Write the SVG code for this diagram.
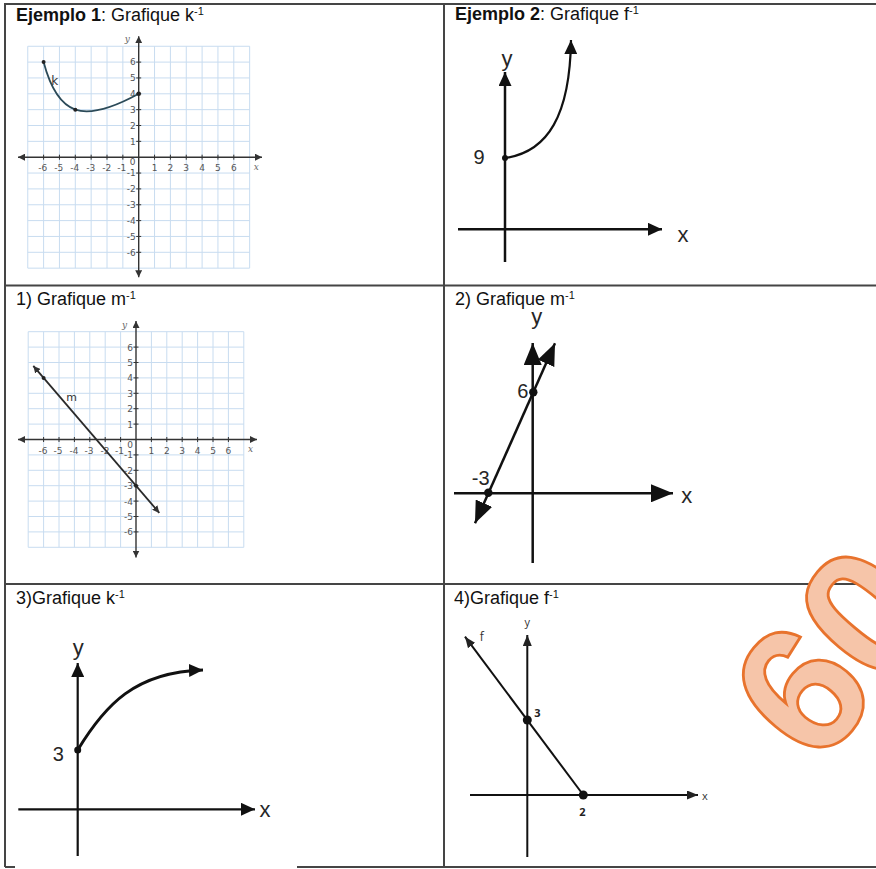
<svg xmlns="http://www.w3.org/2000/svg" width="876" height="869" viewBox="0 0 876 869">
<defs>
<style>
.tbl{stroke:#454545;stroke-width:2;fill:none}
.title{font-family:"Liberation Sans",Arial,sans-serif;font-size:18px;fill:#111}
.b{font-weight:bold}
.sup{font-size:11px}
.grid{stroke:#c8dcf0;stroke-width:1;fill:none}
.gax{stroke:#333;stroke-width:1.4;fill:none}
.tick{stroke:#333;stroke-width:1;fill:none}
.tlm{font-family:"DejaVu Sans",sans-serif;font-size:9px;fill:#555;text-anchor:middle}
.tle{font-family:"DejaVu Sans",sans-serif;font-size:9px;fill:#555;text-anchor:end}
.axl{font-family:"DejaVu Serif",serif;font-style:italic;font-size:9px;fill:#666}
.lbl{font-family:"Liberation Sans",Arial,sans-serif;fill:#262626;text-anchor:middle}
.ax{stroke:#111;fill:none}
</style>
<marker id="aS" viewBox="0 0 10 10" refX="10" refY="5" markerWidth="7" markerHeight="7" markerUnits="userSpaceOnUse" orient="auto-start-reverse"><path d="M0,0 L10,5 L0,10 z" fill="#333"/></marker>
<marker id="aM" viewBox="0 0 10 10" refX="10" refY="5" markerWidth="14" markerHeight="13" markerUnits="userSpaceOnUse" orient="auto-start-reverse" preserveAspectRatio="none"><path d="M0,0 L10,5 L0,10 z" fill="#111"/></marker>
<marker id="aL" viewBox="0 0 10 10" refX="10" refY="5" markerWidth="22" markerHeight="18" markerUnits="userSpaceOnUse" orient="auto-start-reverse" preserveAspectRatio="none"><path d="M0,0 L10,5 L0,10 z" fill="#111"/></marker>
<marker id="aT" viewBox="0 0 10 10" refX="10" refY="5" markerWidth="11" markerHeight="9" markerUnits="userSpaceOnUse" orient="auto-start-reverse" preserveAspectRatio="none"><path d="M0,0 L10,5 L0,10 z" fill="#222"/></marker>
</defs>
<rect width="876" height="869" fill="#fff"/>

<g id="table">
<path class="tbl" d="M4,4 H876 M5,4 V867 M5,867 H15 M444,4 V867 M5,285.5 H876 M5,584 H876 M297,867 H876"/>
</g>

<g id="titles">
<text class="title" x="16" y="21"><tspan class="b">Ejemplo 1</tspan>: Grafique k<tspan class="sup" dy="-6">-1</tspan></text>
<text class="title" x="455" y="20"><tspan class="b">Ejemplo 2</tspan>: Grafique f<tspan class="sup" dy="-6">-1</tspan></text>
<text class="title" x="16" y="305">1) Grafique m<tspan class="sup" dy="-6">-1</tspan></text>
<text class="title" x="455" y="305">2) Grafique m<tspan class="sup" dy="-6">-1</tspan></text>
<text class="title" x="16" y="604">3)Grafique k<tspan class="sup" dy="-6">-1</tspan></text>
<text class="title" x="454" y="604">4)Grafique f<tspan class="sup" dy="-6">-1</tspan></text>
</g>

<g id="graph-ejemplo1" transform="translate(138.7,157.2)">
<path class="grid" d="M-110.95,-110.95 V110.95 M-95.1,-110.95 V110.95 M-79.25,-110.95 V110.95 M-63.4,-110.95 V110.95 M-47.55,-110.95 V110.95 M-31.7,-110.95 V110.95 M-15.85,-110.95 V110.95 M15.85,-110.95 V110.95 M31.7,-110.95 V110.95 M47.55,-110.95 V110.95 M63.4,-110.95 V110.95 M79.25,-110.95 V110.95 M95.1,-110.95 V110.95 M110.95,-110.95 V110.95
M-110.95,-110.95 H110.95 M-110.95,-95.1 H110.95 M-110.95,-79.25 H110.95 M-110.95,-63.4 H110.95 M-110.95,-47.55 H110.95 M-110.95,-31.7 H110.95 M-110.95,-15.85 H110.95 M-110.95,15.85 H110.95 M-110.95,31.7 H110.95 M-110.95,47.55 H110.95 M-110.95,63.4 H110.95 M-110.95,79.25 H110.95 M-110.95,95.1 H110.95 M-110.95,110.95 H110.95"/>
<path class="gax" d="M-120.7,0 H123.3" marker-start="url(#aS)" marker-end="url(#aS)"/>
<path class="gax" d="M0,-121 V120" marker-start="url(#aS)" marker-end="url(#aS)"/>
<path class="tick" d="M-95.1,-2.5 V2.5 M-79.25,-2.5 V2.5 M-63.4,-2.5 V2.5 M-47.55,-2.5 V2.5 M-31.7,-2.5 V2.5 M-15.85,-2.5 V2.5 M15.85,-2.5 V2.5 M31.7,-2.5 V2.5 M47.55,-2.5 V2.5 M63.4,-2.5 V2.5 M79.25,-2.5 V2.5 M95.1,-2.5 V2.5
M-2.5,-95.1 H2.5 M-2.5,-79.25 H2.5 M-2.5,-63.4 H2.5 M-2.5,-47.55 H2.5 M-2.5,-31.7 H2.5 M-2.5,-15.85 H2.5 M-2.5,15.85 H2.5 M-2.5,31.7 H2.5 M-2.5,47.55 H2.5 M-2.5,63.4 H2.5 M-2.5,79.25 H2.5 M-2.5,95.1 H2.5"/>
<text class="tlm" x="-96" y="14">-6</text><text class="tlm" x="-80" y="14">-5</text><text class="tlm" x="-64" y="14">-4</text><text class="tlm" x="-48" y="14">-3</text><text class="tlm" x="-32" y="14">-2</text><text class="tlm" x="-17" y="14">-1</text>
<text class="tlm" x="15.85" y="14">1</text><text class="tlm" x="31.7" y="14">2</text><text class="tlm" x="47.55" y="14">3</text><text class="tlm" x="63.4" y="14">4</text><text class="tlm" x="79.25" y="14">5</text><text class="tlm" x="95.1" y="14">6</text>
<text class="tlm" x="-6" y="8">0</text>
<text class="tle" x="-3" y="-91.8">6</text><text class="tle" x="-3" y="-76">5</text><text class="tle" x="-3" y="-60.1">4</text><text class="tle" x="-3" y="-44.3">3</text><text class="tle" x="-3" y="-28.4">2</text><text class="tle" x="-3" y="-12.5">1</text>
<text class="tle" x="-3" y="19.2">-1</text><text class="tle" x="-3" y="35">-2</text><text class="tle" x="-3" y="50.9">-3</text><text class="tle" x="-3" y="66.7">-4</text><text class="tle" x="-3" y="82.6">-5</text><text class="tle" x="-3" y="98.4">-6</text>
<text class="axl" x="-14" y="-115">y</text>
<text class="axl" x="115" y="13">x</text>
<path d="M-95.1,-95.1 C-89,-72 -79,-53 -63.4,-47.55 C-50,-43 -30,-47 0,-63.4" fill="none" stroke="#2b4a58" stroke-width="1.8"/>
<circle cx="-95.1" cy="-95.1" r="2" fill="#222"/><circle cx="-63.4" cy="-47.55" r="2" fill="#222"/><circle cx="0" cy="-63.4" r="2.3" fill="#222"/>
<text x="-84" y="-72.5" font-family="DejaVu Sans,sans-serif" font-size="12" fill="#333" text-anchor="middle">k</text>
</g>

<g id="graph-ejemplo2">
<path class="ax" stroke-width="2.5" d="M505,262 V72" marker-end="url(#aM)"/>
<path class="ax" stroke-width="2.5" d="M458,229.3 H662" marker-end="url(#aM)"/>
<path class="ax" stroke-width="2.2" d="M505,158 C548,152 570,115 571,40" marker-end="url(#aM)"/>
<circle cx="505" cy="158" r="3" fill="#111"/>
<text class="lbl" x="479" y="164" font-size="20">9</text>
<text class="lbl" x="507" y="66" font-size="22">y</text>
<text class="lbl" x="683" y="242" font-size="22">x</text>
</g>

<g id="graph-1" transform="translate(136,439.5)">
<path class="grid" d="M-107.8,-107.8 V107.8 M-92.4,-107.8 V107.8 M-77,-107.8 V107.8 M-61.6,-107.8 V107.8 M-46.2,-107.8 V107.8 M-30.8,-107.8 V107.8 M-15.4,-107.8 V107.8 M15.4,-107.8 V107.8 M30.8,-107.8 V107.8 M46.2,-107.8 V107.8 M61.6,-107.8 V107.8 M77,-107.8 V107.8 M92.4,-107.8 V107.8 M107.8,-107.8 V107.8
M-107.8,-107.8 H107.8 M-107.8,-92.4 H107.8 M-107.8,-77 H107.8 M-107.8,-61.6 H107.8 M-107.8,-46.2 H107.8 M-107.8,-30.8 H107.8 M-107.8,-15.4 H107.8 M-107.8,15.4 H107.8 M-107.8,30.8 H107.8 M-107.8,46.2 H107.8 M-107.8,61.6 H107.8 M-107.8,77 H107.8 M-107.8,92.4 H107.8 M-107.8,107.8 H107.8"/>
<path class="gax" d="M-118,0 H121" marker-start="url(#aS)" marker-end="url(#aS)"/>
<path class="gax" d="M0,-118.5 V118" marker-start="url(#aS)" marker-end="url(#aS)"/>
<path class="tick" d="M-92.4,-2.5 V2.5 M-77,-2.5 V2.5 M-61.6,-2.5 V2.5 M-46.2,-2.5 V2.5 M-30.8,-2.5 V2.5 M-15.4,-2.5 V2.5 M15.4,-2.5 V2.5 M30.8,-2.5 V2.5 M46.2,-2.5 V2.5 M61.6,-2.5 V2.5 M77,-2.5 V2.5 M92.4,-2.5 V2.5
M-2.5,-92.4 H2.5 M-2.5,-77 H2.5 M-2.5,-61.6 H2.5 M-2.5,-46.2 H2.5 M-2.5,-30.8 H2.5 M-2.5,-15.4 H2.5 M-2.5,15.4 H2.5 M-2.5,30.8 H2.5 M-2.5,46.2 H2.5 M-2.5,61.6 H2.5 M-2.5,77 H2.5 M-2.5,92.4 H2.5"/>
<text class="tlm" x="-93" y="14">-6</text><text class="tlm" x="-78" y="14">-5</text><text class="tlm" x="-62" y="14">-4</text><text class="tlm" x="-47" y="14">-3</text><text class="tlm" x="-31" y="14">-2</text><text class="tlm" x="-16.5" y="14">-1</text>
<text class="tlm" x="15.4" y="14">1</text><text class="tlm" x="30.8" y="14">2</text><text class="tlm" x="46.2" y="14">3</text><text class="tlm" x="61.6" y="14">4</text><text class="tlm" x="77" y="14">5</text><text class="tlm" x="92.4" y="14">6</text>
<text class="tlm" x="-6" y="8">0</text>
<text class="tle" x="-3" y="-89">6</text><text class="tle" x="-3" y="-73.6">5</text><text class="tle" x="-3" y="-58.2">4</text><text class="tle" x="-3" y="-42.8">3</text><text class="tle" x="-3" y="-27.4">2</text><text class="tle" x="-3" y="-12">1</text>
<text class="tle" x="-3" y="18.8">-1</text><text class="tle" x="-3" y="34.2">-2</text><text class="tle" x="-3" y="49.6">-3</text><text class="tle" x="-3" y="65">-4</text><text class="tle" x="-3" y="80.4">-5</text><text class="tle" x="-3" y="95.8">-6</text>
<text class="axl" x="-14" y="-112">y</text>
<text class="axl" x="112" y="12">x</text>
<path d="M-102.7,-73.6 L23.3,73.4" fill="none" stroke="#2a2a2a" stroke-width="1.8" marker-start="url(#aS)" marker-end="url(#aS)"/>
<circle cx="-92.4" cy="-61.6" r="2" fill="#222"/><circle cx="0" cy="46.2" r="2" fill="#222"/>
<text x="-64.3" y="-39" font-family="DejaVu Sans,sans-serif" font-size="11" fill="#333" text-anchor="middle">m</text>
</g>

<g id="graph-2">
<path class="ax" stroke-width="2.5" d="M532.7,563 V343" marker-end="url(#aL)"/>
<path class="ax" stroke-width="2.5" d="M454,493.3 H673" marker-end="url(#aL)"/>
<path class="ax" stroke-width="2.5" d="M475,523.3 L555,343.3" marker-start="url(#aL)" marker-end="url(#aL)"/>
<circle cx="488.3" cy="492.7" r="4.2" fill="#111"/>
<circle cx="533.3" cy="392.3" r="4.2" fill="#111"/>
<text class="lbl" x="522.7" y="398" font-size="20">6</text>
<text class="lbl" x="480.7" y="485" font-size="20">-3</text>
<text class="lbl" x="686.7" y="503" font-size="22">x</text>
<text class="lbl" x="536.7" y="324" font-size="22">y</text>
</g>

<g id="graph-3">
<path class="ax" stroke-width="2.2" d="M77.7,856 V663" marker-end="url(#aM)"/>
<path class="ax" stroke-width="2.2" d="M18.3,809.3 H255" marker-end="url(#aM)"/>
<path class="ax" stroke-width="3" d="M77.7,750 C105,705 135,672 203,670" marker-end="url(#aM)"/>
<circle cx="77.7" cy="750" r="3.5" fill="#111"/>
<text class="lbl" x="58.3" y="761" font-size="20">3</text>
<text class="lbl" x="78.3" y="655" font-size="22">y</text>
<text class="lbl" x="265" y="817" font-size="22">x</text>
</g>

<g id="graph-4">
<path class="ax" stroke="#222" stroke-width="2" d="M527.3,857 V635" marker-end="url(#aT)"/>
<path class="ax" stroke="#222" stroke-width="2" d="M470,795 H698" marker-end="url(#aT)"/>
<path class="ax" stroke="#222" stroke-width="2" d="M583.3,795 L465,636.7" marker-end="url(#aT)"/>
<circle cx="527.3" cy="720" r="4.5" fill="#111"/>
<circle cx="583.3" cy="795" r="4.5" fill="#111"/>
<text x="527.3" y="626" font-family="Open Sans,sans-serif" font-size="11" fill="#333" text-anchor="middle">y</text>
<text x="705" y="800" font-family="Open Sans,sans-serif" font-size="11" fill="#333" text-anchor="middle">x</text>
<text x="481.7" y="641" font-family="Open Sans,sans-serif" font-size="12" fill="#333" text-anchor="middle">f</text>
<text x="537.3" y="717" font-family="Open Sans,sans-serif" font-size="11" font-weight="bold" fill="#222" text-anchor="middle">3</text>
<text x="582.3" y="816" font-family="Open Sans,sans-serif" font-size="11" font-weight="bold" fill="#222" text-anchor="middle">2</text>
</g>

<g id="watermark">
<text transform="translate(817,770) rotate(-50)" font-family="Liberation Sans,Arial,sans-serif" font-weight="bold" font-size="182" fill="#f6c5a9" stroke="#e8732d" stroke-width="2.8">60</text>
</g>
</svg>
